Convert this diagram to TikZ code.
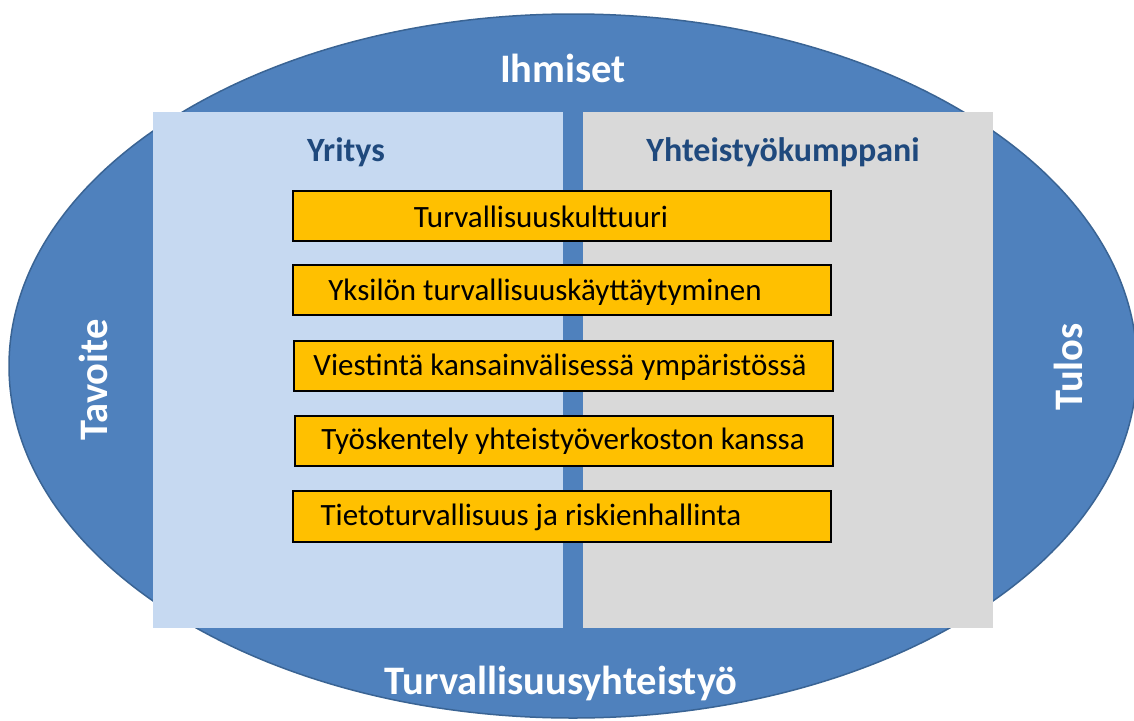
\documentclass[tikz,border=0pt]{standalone}
\usepackage{fontspec}
\setmainfont{Carlito}
\definecolor{ellblue}{HTML}{4F81BD}
\definecolor{ellborder}{HTML}{3A6494}
\definecolor{lightblue}{HTML}{C6D9F1}
\definecolor{lightgray}{HTML}{D9D9D9}
\definecolor{orangebox}{HTML}{FFC000}
\definecolor{darkblue}{HTML}{1F497D}
\begin{document}
\begin{tikzpicture}[x=1pt,y=-1pt,
  obox/.style={draw=black,line width=1.6pt,fill=orangebox,inner sep=0pt,outer sep=0pt},
  otext/.style={font=\fontsize{31}{35}\selectfont,text=black,inner sep=0pt},
  header/.style={font=\fontsize{34}{38}\selectfont\bfseries,text=darkblue,inner sep=0pt},
  wlabel/.style={font=\fontsize{40.5}{44}\selectfont\bfseries,text=white,inner sep=0pt}]
\useasboundingbox (0,0) rectangle (1134,720);
\draw[fill=ellblue,draw=ellborder,line width=1.5pt] (573,366) ellipse [x radius=564, y radius=352];
\fill[lightblue] (153,112) rectangle (563,628);
\fill[lightgray] (583,112) rectangle (993,628);
\node[header] (yr) at (346,152) {Yritys};
\node[header] (yk) at (783,152) {Yhteistyökumppani};
\node[wlabel] (ih) at (563,68) {Ihmiset};
\node[wlabel] (ty) at (561,683) {Turvallisuusyhteistyö};
\node[wlabel,rotate=90] (ta) at (93,380) {Tavoite};
\node[wlabel,rotate=90] (tu) at (1068,367) {Tulos};
\draw[obox] (293,191) rectangle (831,241);
\draw[obox] (293,265) rectangle (831,315);
\draw[obox] (294,341) rectangle (833,391);
\draw[obox] (295,416) rectangle (833,466);
\draw[obox] (293,491) rectangle (831,542);
\node[otext] (t1) at (541,217) {Turvallisuuskulttuuri};
\node[otext] (t2) at (545,292) {Yksilön turvallisuuskäyttäytyminen};
\node[otext] (t3) at (560,367) {Viestintä kansainvälisessä ympäristössä};
\node[otext] (t4) at (563,441) {Työskentely yhteistyöverkoston kanssa};
\node[otext] (t5) at (531,517) {Tietoturvallisuus ja riskienhallinta};
\end{tikzpicture}
\end{document}
